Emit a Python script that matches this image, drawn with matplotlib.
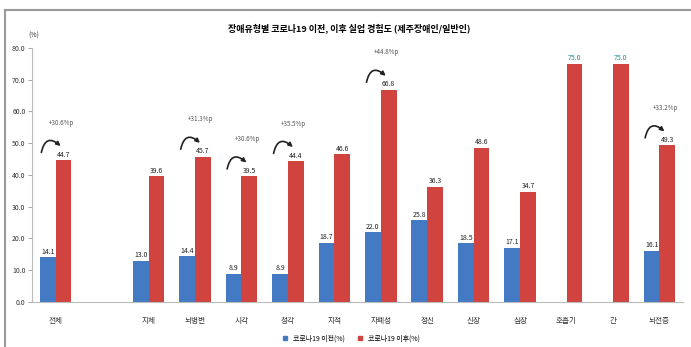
import numpy as np
import matplotlib
matplotlib.use("Agg")
import matplotlib.pyplot as plt
from matplotlib.lines import Line2D

plt.rcParams['font.family'] = ['Noto Sans CJK KR', 'DejaVu Sans']

# 장애유형별 코로나19 이전/이후 비율 (%)
categories = ["전체", "지체", "뇌병변", "시각", "청각", "지적", "자폐성",
              "정신", "신장", "심장", "호흡기", "간", "뇌전증"]
before = [14.1, 13.0, 14.4, 8.9, 8.9, 18.7, 22.0, 25.8, 18.5, 17.1, np.nan, np.nan, 16.1]
after = [44.7, 39.6, 45.7, 39.5, 44.4, 46.6, 66.8, 36.3, 48.6, 34.7, 75.0, 75.0, 49.3]
series_names = ["코로나19 이전(%)", "코로나19 이후(%)"]
# 증가폭 표시할 항목
marked = ["전체", "뇌병변", "시각", "청각", "자폐성", "뇌전증"]

title = "장애유형별 코로나19 이전, 이후 실업 경험도 (제주장애인/일반인)"
yticks = np.arange(0, 81, 10)

blue = "#4479C4"
red = "#D0433F"

# 전체 다음에 한 칸 띄움
x = np.r_[0, np.arange(2, len(categories) + 1)]
w = 0.34

fig = plt.figure(figsize=(6.91, 3.47), dpi=100)
ax = fig.add_axes([0.047, 0.130, 0.941, 0.732])

ax.bar(x - w / 2, before, w, color=blue, label=series_names[0])
ax.bar(x + w / 2, after, w, color=red, label=series_names[1])

for xi, b, a, cat in zip(x, before, after, categories):
    if not np.isnan(b):
        ax.annotate(f"{b:.1f}", (xi - w / 2, b), xytext=(0, 1), textcoords="offset points",
                    ha="center", va="bottom", fontsize=5, color="#222222")
        a_col = "#222222"
    else:
        a_col = "#1f8a8a"
    ax.annotate(f"{a:.1f}", (xi + w / 2, a), xytext=(0, 1), textcoords="offset points",
                ha="center", va="bottom", fontsize=5, color=a_col)
    if cat in marked:
        diff = a - b
        ax.annotate("", xy=(xi + w / 2 - 0.02, a + 3.8), xytext=(xi - w / 2 - 0.15, a + 1.5),
                    arrowprops=dict(arrowstyle="-|>", color="#222222", lw=1.2,
                                    mutation_scale=6,
                                    connectionstyle="arc3,rad=-0.95"))
        ax.text(xi + 0.12, a + 10.5, f"+{diff:.1f}%p", ha="center", va="bottom",
                fontsize=4.5, color="#555555")

ax.set_xlim(-0.5, len(categories) + 0.5)
ax.set_ylim(0, 80)
ax.set_yticks(yticks)
ax.set_yticklabels([f"{t:.1f}" for t in yticks], fontsize=5, color="#333333")
ax.set_xticks(x)
ax.set_xticklabels(categories, fontsize=5.5, color="#333333")
ax.tick_params(axis="x", length=0, pad=11)
ax.tick_params(axis="y", length=3, width=0.6, color="#999999", pad=2)
for side in ["top", "right"]:
    ax.spines[side].set_visible(False)
for side in ["left", "bottom"]:
    ax.spines[side].set_color("#bbbbbb")
    ax.spines[side].set_linewidth(0.8)

ax.text(-0.35, 84, "(%)", fontsize=5, ha="right", va="center", color="#333333")
fig.text(0.505, 0.918, title, ha="center", va="center", fontsize=6.5, fontweight="bold")

handles = [Line2D([], [], marker="s", ls="", color=blue, markersize=3.5),
           Line2D([], [], marker="s", ls="", color=red, markersize=3.5)]
fig.legend(handles, series_names, loc="center", bbox_to_anchor=(0.505, 0.025), ncol=2,
           frameon=False, fontsize=5, handletextpad=0.2, columnspacing=1.2)

# 바깥 테두리
fig.add_artist(Line2D([0.007, 1.0], [0.972, 0.972], color="#999999", lw=1.5,
                      transform=fig.transFigure))
fig.add_artist(Line2D([0.007, 0.007], [0.0, 0.972], color="#999999", lw=1.5,
                      transform=fig.transFigure))

fig.savefig("out.png", dpi=100)
